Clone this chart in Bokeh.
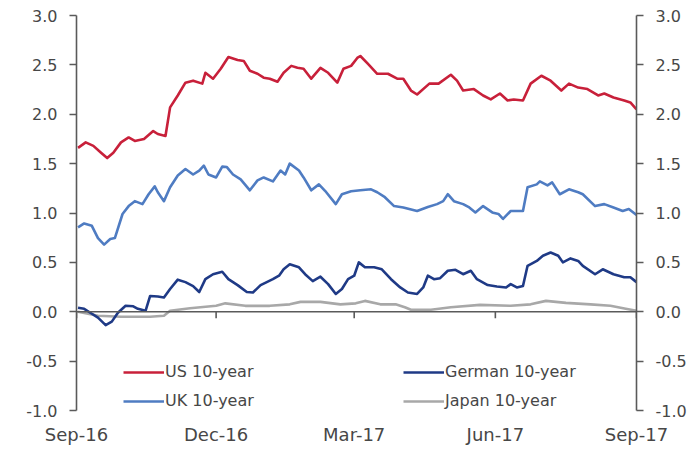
import pandas as pd
from bokeh.plotting import figure
from bokeh.models import (LinearAxis, DatetimeAxis, FixedTicker, DatetimeTickFormatter,
                          NumeralTickFormatter, Range1d, Legend, LegendItem, Span)
from bokeh.embed import file_html
from bokeh.resources import INLINE

# ---------------- data ----------------
start_date = "2016-09-15"
end_date = "2017-09-15"
series_names = ["US 10-year", "UK 10-year", "German 10-year", "Japan 10-year"]

# days after start_date
us_days = [1, 6, 11, 16, 20, 24, 29, 34, 38, 44, 50, 53, 58, 61, 66, 71, 76, 82, 84, 89,
           94, 99, 105, 109, 113, 118, 122, 126, 131, 135, 140, 144, 148, 153, 159, 164, 170, 174, 179, 183,
           185, 190, 196, 203, 209, 213, 218, 222, 230, 236, 244, 248, 252, 259, 265, 270, 276, 281, 285, 291,
           296, 303, 309, 316, 321, 327, 333, 340, 344, 350, 357, 361, 365]
us_vals = [1.66, 1.715, 1.68, 1.61, 1.556, 1.61, 1.715, 1.765, 1.73, 1.75,
           1.83, 1.80, 1.78, 2.07, 2.19, 2.32, 2.34, 2.31, 2.42, 2.36,
           2.46, 2.58, 2.55, 2.54, 2.44, 2.41, 2.37, 2.36, 2.33, 2.42,
           2.49, 2.47, 2.46, 2.36, 2.47, 2.42, 2.32, 2.46, 2.49, 2.57,
           2.59, 2.51, 2.41, 2.41, 2.36, 2.36, 2.24, 2.20, 2.31, 2.31,
           2.40, 2.34, 2.24, 2.255, 2.19, 2.15, 2.21, 2.14, 2.15, 2.14,
           2.31, 2.39, 2.34, 2.24, 2.31, 2.27, 2.255, 2.19, 2.21, 2.17,
           2.14, 2.12, 2.05]

uk_days = [1, 5, 10, 14, 18, 22, 25, 30, 34, 38, 43, 47, 51, 53, 57, 61, 66, 71, 76, 80,
           83, 86, 91, 95, 98, 102, 107, 113, 118, 122, 128, 133, 136, 139, 145, 148, 153, 158, 162, 169,
           173, 179, 185, 192, 196, 201, 207, 213, 222, 229, 235, 239, 242, 246, 252, 256, 260, 265, 271, 275,
           278, 283, 291, 294, 300, 302, 307, 310, 315, 321, 327, 330, 338, 344, 350, 356, 360, 365]
uk_vals = [0.854, 0.894, 0.87, 0.746, 0.68, 0.736, 0.746, 0.99, 1.07, 1.12,
           1.09, 1.19, 1.27, 1.21, 1.12, 1.26, 1.38, 1.445, 1.39, 1.43,
           1.48, 1.39, 1.36, 1.47, 1.465, 1.39, 1.34, 1.23, 1.33, 1.36,
           1.32, 1.43, 1.39, 1.50, 1.43, 1.36, 1.23, 1.29, 1.225, 1.09,
           1.19, 1.22, 1.23, 1.24, 1.21, 1.16, 1.07, 1.056, 1.02, 1.06,
           1.09, 1.12, 1.19, 1.12, 1.09, 1.056, 1.006, 1.07, 1.006, 0.99,
           0.94, 1.02, 1.02, 1.26, 1.29, 1.32, 1.28, 1.31, 1.19, 1.24,
           1.21, 1.19, 1.07, 1.09, 1.056, 1.02, 1.04, 0.98]

de_days = [1, 5, 9, 14, 19, 23, 27, 32, 37, 40, 45, 48, 53, 57, 61, 66, 71, 76, 80, 84,
           89, 95, 99, 105, 111, 115, 120, 124, 128, 132, 135, 139, 145, 149, 154, 159, 164, 169, 173, 177,
           181, 184, 188, 194, 199, 205, 211, 216, 222, 226, 229, 233, 237, 242, 247, 252, 257, 261, 268, 274,
           280, 283, 287, 291, 294, 300, 304, 309, 314, 317, 322, 327, 330, 338, 343, 350, 357, 361, 365]
de_vals = [0.04, 0.03, -0.01, -0.06, -0.135, -0.10, -0.01, 0.06, 0.055, 0.03,
           0.01, 0.16, 0.155, 0.145, 0.23, 0.325, 0.30, 0.26, 0.20, 0.33,
           0.38, 0.405, 0.33, 0.27, 0.20, 0.195, 0.27, 0.30, 0.33, 0.365,
           0.43, 0.48, 0.45, 0.38, 0.31, 0.355, 0.28, 0.18, 0.23, 0.33,
           0.365, 0.50, 0.45, 0.45, 0.43, 0.33, 0.246, 0.195, 0.18, 0.246,
           0.365, 0.33, 0.34, 0.415, 0.425, 0.38, 0.415, 0.33, 0.27, 0.256,
           0.246, 0.28, 0.246, 0.26, 0.465, 0.515, 0.567, 0.60, 0.567, 0.50,
           0.54, 0.515, 0.465, 0.38, 0.43, 0.38, 0.35, 0.35, 0.30]

jp_days = [1, 14, 29, 48, 57, 61, 74, 91, 97, 110, 126, 139, 146, 159, 172, 182, 188, 198, 208, 214,
           218, 231, 244, 263, 283, 296, 306, 319, 335, 348, 358, 365]
jp_vals = [0.0, -0.04, -0.05, -0.05, -0.04, 0.01, 0.035, 0.06, 0.085, 0.06,
           0.06, 0.075, 0.10, 0.10, 0.075, 0.085, 0.11, 0.075, 0.075, 0.045,
           0.02, 0.02, 0.045, 0.07, 0.06, 0.075, 0.11, 0.09, 0.075, 0.06,
           0.03, 0.01]

x_tick_dates = ["2016-09-15", "2016-12-15", "2017-03-15", "2017-06-15", "2017-09-15"]
y_ticks = [-1.0, -0.5, 0.0, 0.5, 1.0, 1.5, 2.0, 2.5, 3.0]

colors = ["#c8203a", "#4f7cc2", "#1f3a86", "#a8a8a8"]

# ---------------- helpers ----------------
start = pd.Timestamp(start_date)
end = pd.Timestamp(end_date)


def to_dates(days):
    return start + pd.to_timedelta(days, unit="D")


tick_ms = [pd.Timestamp(d).timestamp() * 1000.0 for d in x_tick_dates]

FONT = "DejaVu Sans"
TXT = "#474747"
AX = "#5a5a5a"

p = figure(width=693, height=452, x_axis_type=None, y_axis_type=None,
           output_backend="svg", toolbar_location=None,
           x_range=Range1d(start.to_pydatetime(), end.to_pydatetime()),
           y_range=Range1d(-1.0, 3.0),
           min_border_left=76, min_border_right=57, min_border_top=15, min_border_bottom=42)
p.outline_line_color = None
p.grid.visible = False
p.background_fill_color = "white"

fmt = DatetimeTickFormatter(years="%b-%y", months="%b-%y", days="%b-%y", hours="%b-%y")

# bottom axis: labels only
xlab = DatetimeAxis(ticker=FixedTicker(ticks=tick_ms), formatter=fmt)
xlab.axis_line_color = None
xlab.major_tick_line_color = None
xlab.minor_tick_line_color = None
xlab.major_label_standoff = 7
xlab.major_label_text_font = FONT
xlab.major_label_text_font_size = "18px"
xlab.major_label_text_color = TXT
p.add_layout(xlab, "below")

for side in ("left", "right"):
    ax = LinearAxis(ticker=FixedTicker(ticks=y_ticks), formatter=NumeralTickFormatter(format="0.0"))
    ax.axis_line_color = AX
    ax.axis_line_width = 1.6
    ax.major_tick_line_color = AX
    ax.major_tick_line_width = 1.6
    ax.major_tick_out = 7
    ax.major_tick_in = 0
    ax.minor_tick_line_color = None
    ax.major_label_standoff = 12
    ax.major_label_text_font = FONT
    ax.major_label_text_font_size = "16px"
    ax.major_label_text_color = TXT
    p.add_layout(ax, side)

# zero line with its quarter ticks
p.add_layout(Span(location=0, dimension="width", line_color=AX, line_width=1.6))
tick_dates = pd.to_datetime(x_tick_dates)
p.segment(x0=tick_dates, y0=0, x1=tick_dates, y1=-0.065, line_color=AX, line_width=1.6)

all_days = [us_days, uk_days, de_days, jp_days]
all_vals = [us_vals, uk_vals, de_vals, jp_vals]
order = [3, 2, 1, 0]
rmap = {}
for i in order:
    r = p.line(to_dates(all_days[i]), all_vals[i], line_color=colors[i], line_width=2.6,
               line_join="round")
    rmap[i] = r

for idxs, xloc in (([0, 1], 47), ([2, 3], 327)):
    leg = Legend(items=[LegendItem(label=series_names[i], renderers=[rmap[i]]) for i in idxs],
                 location=(xloc, 0), orientation="vertical")
    leg.padding = 0
    leg.margin = 0
    leg.spacing = 10
    leg.glyph_width = 41
    leg.glyph_height = 16
    leg.label_height = 16
    leg.label_standoff = 1
    leg.border_line_alpha = 0
    leg.background_fill_alpha = 0
    leg.label_text_font = FONT
    leg.label_text_font_size = "16px"
    leg.label_text_color = TXT
    p.add_layout(leg)

open("out.html", "w").write(file_html(p, INLINE))
